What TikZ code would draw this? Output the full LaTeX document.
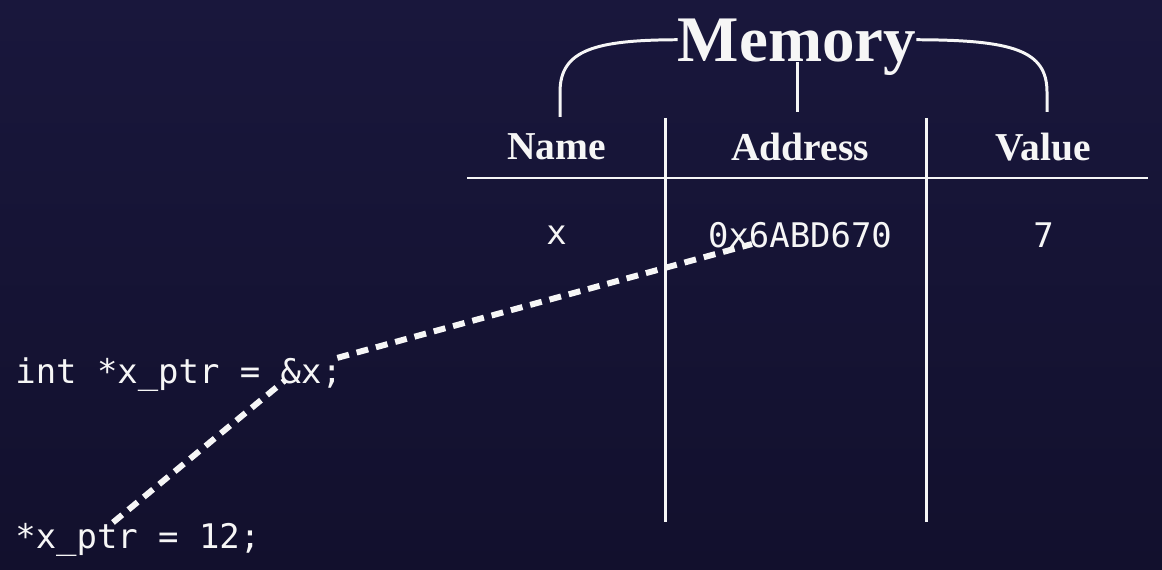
\documentclass[tikz,border=0pt]{standalone}
\usepackage{fontspec}
\setmainfont{Liberation Serif}
\setmonofont{DejaVu Sans Mono}
\usetikzlibrary{positioning}
\definecolor{night}{RGB}{25,23,60}
\definecolor{nightdeep}{RGB}{18,16,45}
\definecolor{chalk}{RGB}{246,246,246}

\begin{document}
\begin{tikzpicture}[%
    x = 0.02cm,
    y = -0.02cm,
    node distance = 4.87cm,
    on grid,
    every node/.style = {text = chalk},
    head/.style  = {font = \bfseries\fontsize{22.5}{26}\selectfont},
    title/.style = {font = \bfseries\fontsize{37}{42}\selectfont, inner sep = 0pt},
    cell/.style  = {font = \ttfamily\fontsize{19.3}{23}\selectfont},
    code/.style  = {font = \ttfamily\fontsize{19.3}{23}\selectfont, inner sep = 0pt},
    rule/.style  = {draw = chalk, line width = 1.7pt},
    pointer/.style = {draw = chalk, line width = 3.4pt,
      dash pattern = on 0.24cm off 0.16cm}
  ]

\shade[top color = night, bottom color = nightdeep] (0,0) rectangle (1162,570);
\useasboundingbox (0,0) rectangle (1162,570);

% table head
\node[head] (addr) at (800,147) {Address};
\node[head] (name) [left=of addr] {Name};
\node[head] (value) [right=of addr] {Value};

% one row
\node[cell] (xname) [below=1.76cm of name] {x};
\node[cell] (xaddr) [below=1.76cm of addr] {0x6ABD670};
\node[cell] (xval) [below=1.76cm of value] {7};

% table rules
\path[rule] (467,178) -- (1148,178);
\path[rule] (665,118) -- (665,522);
\path[rule] (926,118) -- (926,522);

% brace
\node[title, anchor=base] (mem) at (797,62) {Memory};
\path[rule] (560,117) -- (560,92)
  .. controls (560,50) and (595,40) .. ([yshift=0.16cm]mem.west);
\path[rule] (1047,112) -- (1047,92)
  .. controls (1047,50) and (1012,40) .. ([yshift=0.16cm]mem.east);
\path[rule] (mem.base) -- ++(0,50);

% code
\node[code, anchor=base west] (decl) at (15,384) {int *x\_ptr = \&x;};
\node[code, anchor=base west] (deref) at (15,548) {*x\_ptr = 12;};

\path[pointer] ([xshift=-0.1cm]decl.north east) -- ([xshift=-0.96cm, yshift=0.2cm]xaddr.south);
\path[pointer] ([xshift=1.96cm]deref.north west) -- ([xshift=5.4cm, yshift=0.24cm]decl.south west);

\end{tikzpicture}
\end{document}
